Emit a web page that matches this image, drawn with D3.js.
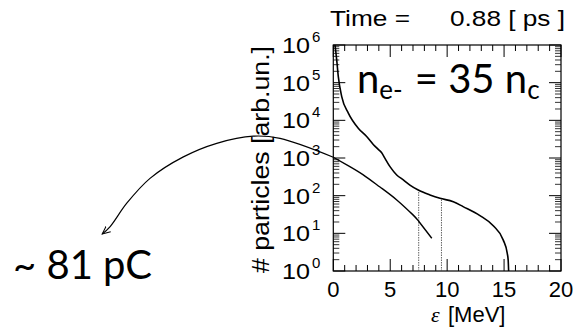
<!DOCTYPE html>
<html><head><meta charset="utf-8">
<script src="https://cdn.jsdelivr.net/npm/d3@7"></script>
<style>
html,body{margin:0;padding:0;background:#fff;}
svg{display:block;font-family:"Liberation Sans",Arial,Helvetica,sans-serif;}
</style></head>
<body>
<script>
// ---- data ----
const xTicksMajor = [0, 5, 10, 15, 20];
const yTicksMajor = [1, 10, 100, 1000, 10000, 100000, 1000000];
const yExponents = ["0", "1", "2", "3", "4", "5", "6"];
// electron spectrum (energy MeV, log10 counts)
const specE   = [0.15, 0.30, 0.44, 0.74, 1.32, 2.19, 2.93, 3.51, 3.95, 4.25, 4.54, 4.98, 5.57, 6.15, 6.73, 7.46, 8.49, 9.37, 10.54, 11.4, 12.88, 14.05, 14.93, 15.28, 15.36, 15.40];
const specLog = [6.00, 5.60, 5.16, 4.63, 4.19, 3.79, 3.57, 3.36, 3.23, 3.14, 2.99, 2.77, 2.55, 2.42, 2.28, 2.15, 2.02, 1.93, 1.84, 1.71, 1.47, 1.20, 0.82, 0.47, 0.29, 0.00];
// fitted (Maxwellian-like) curve
const fitE   = [0, 1.3, 2.6, 4.1, 5.6, 7.0, 7.5, 8.65];
const fitLog = [3.02, 2.80, 2.56, 2.23, 1.88, 1.49, 1.32, 0.87];
// annotation arrow continuing the fit curve (data units)
const arrowE   = [0, -4.68, -7.02, -10.24, -13.17, -16.1, -18.14, -19.6, -20.3];
const arrowLog = [3.02, 3.52, 3.58, 3.39, 3.03, 2.46, 1.80, 1.18, 0.98];
// energy window markers
const markerE = [7.5, 9.5];

const W = 577, H = 328;
const L = 333.3, R = 561, T = 45, B = 271;

const svg = d3.select("body").append("svg").attr("width", W).attr("height", H);
const x = d3.scaleLinear().domain([0, 20]).range([L, R]);
const y = d3.scaleLog().domain([1, 1e6]).range([B, T]);

const defs = svg.append("defs");
defs.append("marker").attr("id","ah").attr("viewBox","0 0 10 10").attr("refX",9).attr("refY",5)
  .attr("markerWidth",9).attr("markerHeight",9).attr("orient","auto").attr("markerUnits","userSpaceOnUse")
  .append("path").attr("d","M0,1 L9,5 L0,9").attr("fill","none").attr("stroke","#000").attr("stroke-width",1.1);

// ticks
const g = svg.append("g");
const xMinor = d3.range(0, 21, 1);
xMinor.forEach(v => {
  const len = (v % 5 === 0) ? 12 : 6;
  g.append("line").attr("x1", x(v)).attr("x2", x(v)).attr("y1", B).attr("y2", B - len).attr("stroke","#000").attr("stroke-width",1);
  g.append("line").attr("x1", x(v)).attr("x2", x(v)).attr("y1", T).attr("y2", T + len).attr("stroke","#000").attr("stroke-width",1);
});
const yMinor = [];
for (let d = 0; d < 6; d++) for (let m = 2; m <= 9; m++) yMinor.push(m * Math.pow(10, d));
yMinor.forEach(v => {
  g.append("line").attr("x1", L).attr("x2", L + 6).attr("y1", y(v)).attr("y2", y(v)).attr("stroke","#000").attr("stroke-width",0.8);
  g.append("line").attr("x1", R).attr("x2", R - 6).attr("y1", y(v)).attr("y2", y(v)).attr("stroke","#000").attr("stroke-width",0.8);
});
yTicksMajor.forEach(v => {
  g.append("line").attr("x1", L).attr("x2", L + 12).attr("y1", y(v)).attr("y2", y(v)).attr("stroke","#000").attr("stroke-width",1);
  g.append("line").attr("x1", R).attr("x2", R - 12).attr("y1", y(v)).attr("y2", y(v)).attr("stroke","#000").attr("stroke-width",1);
});
svg.append("rect").attr("x", L).attr("y", T).attr("width", R - L).attr("height", B - T)
  .attr("fill","none").attr("stroke","#000").attr("stroke-width",1.2);

// tick labels
xTicksMajor.forEach(v => {
  svg.append("text").attr("x", x(v)).attr("y", 297).attr("text-anchor","middle").attr("font-size",22).text(v);
});
yTicksMajor.forEach((v, i) => {
  svg.append("text").attr("x", 282).attr("y", y(v) + 8).attr("font-size",22)
    .attr("textLength",28).attr("lengthAdjust","spacingAndGlyphs").text("10");
  svg.append("text").attr("x", 312).attr("y", y(v) - 3).attr("font-size",15).text(yExponents[i]);
});

// axis titles
const xl = svg.append("text").attr("x", 431).attr("y", 322).attr("font-size",22);
xl.append("tspan").style("font-family","'Liberation Serif','Times New Roman',serif").attr("font-style","italic").text("ε");
xl.append("tspan").attr("x",448).text("[MeV]");
svg.append("text").attr("transform","translate(269,159.5) rotate(-90)").attr("text-anchor","middle")
  .attr("font-size",23).attr("textLength",227).attr("lengthAdjust","spacingAndGlyphs").text("# particles [arb.un.]");

// title
svg.append("text").attr("x", 330).attr("y", 26).attr("font-size",22)
  .attr("textLength",80).attr("lengthAdjust","spacingAndGlyphs").text("Time =");
svg.append("text").attr("x", 450).attr("y", 26).attr("font-size",22)
  .attr("textLength",115).attr("lengthAdjust","spacingAndGlyphs").text("0.88 [ ps ]");

// marker lines
const specInterp = e => {
  for (let i = 1; i < specE.length; i++) if (e <= specE[i]) {
    const f = (e - specE[i-1]) / (specE[i] - specE[i-1]);
    return specLog[i-1] + f * (specLog[i] - specLog[i-1]);
  }
  return 0;
};
markerE.forEach(e => {
  svg.append("line").attr("x1", x(e)).attr("x2", x(e)).attr("y1", B).attr("y2", y(Math.pow(10, specInterp(e))))
    .attr("stroke","#555").attr("stroke-width",0.9).attr("stroke-dasharray","1.5,1");
});

// curves
const line = d3.line().x(d => x(d[0])).y(d => y(Math.pow(10, d[1]))).curve(d3.curveMonotoneX);
svg.append("path").datum(specE.map((e, i) => [e, specLog[i]])).attr("d", line)
  .attr("fill","none").attr("stroke","#000").attr("stroke-width",1.6);
svg.append("path").datum(fitE.map((e, i) => [e, fitLog[i]])).attr("d", d3.line().x(d => x(d[0])).y(d => y(Math.pow(10, d[1]))).curve(d3.curveNatural))
  .attr("fill","none").attr("stroke","#000").attr("stroke-width",1.4);
svg.append("path").datum(arrowE.map((e, i) => [e, arrowLog[i]]))
  .attr("d", d3.line().x(d => x(d[0])).y(d => y(Math.pow(10, d[1]))).curve(d3.curveCatmullRom))
  .attr("fill","none").attr("stroke","#000").attr("stroke-width",1.2).attr("marker-end","url(#ah)");

// annotations
const ann = "Lato, 'Open Sans', sans-serif";
const n1 = svg.append("text").attr("x", 357).attr("y", 93).style("font-family", ann).attr("font-size",40);
n1.append("tspan").text("n");
n1.append("tspan").attr("font-size",26).attr("dy",6).text("e-");
n1.append("tspan").attr("dy",-6).attr("dx",12).text("= 35 n");
n1.append("tspan").attr("font-size",26).attr("dy",6).text("c");
svg.append("text").attr("x", 13).attr("y", 279).style("font-family", ann).attr("font-size",40).text("~ 81 pC");
</script>
</body></html>
